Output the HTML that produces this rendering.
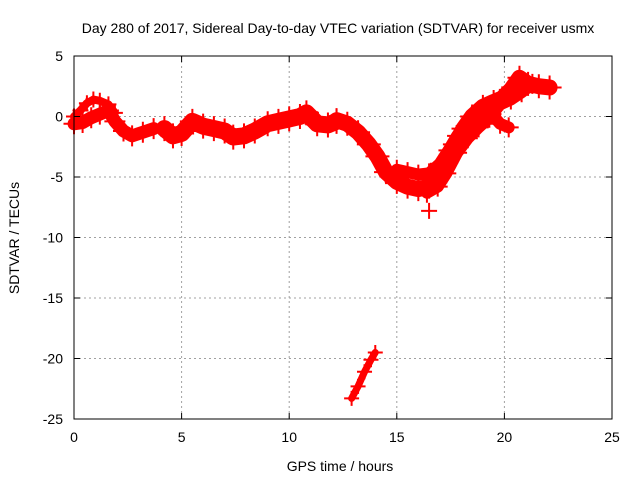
<!DOCTYPE html>
<html><head><meta charset="utf-8"><style>
body{margin:0;background:#fff}
svg{display:block;font-family:"Liberation Sans",sans-serif}
</style></head><body>
<svg id="chart" width="640" height="480">
<text x="338" y="33" font-size="14" text-anchor="middle">Day 280 of 2017, Sidereal Day-to-day VTEC variation (SDTVAR) for receiver usmx</text>
<text x="340" y="471" font-size="14" text-anchor="middle">GPS time / hours</text>
<text transform="translate(19,238) rotate(-90)" font-size="14" text-anchor="middle">SDTVAR / TECUs</text>
<g id="grid"></g><g id="marks"></g><g id="axes"></g>
</svg>
<script>
const xTicks=[0,5,10,15,20,25];
const yTicks=[5,0,-5,-10,-15,-20,-25];
const trackAx=[0,0.3,0.6,0.9,1.2,1.6,1.9];
const trackAy=[0,0.5,1.1,1.4,1.3,1.0,0.3];
const trackBx=[0,0.4,0.8,1.2,1.6,1.9,2.3,2.7,3.2,3.7];
const trackBy=[-0.6,-0.5,-0.1,0.2,0.5,-0.4,-1.2,-1.6,-1.3,-1.0];
const trackCx=[4.2,4.6,5.0,5.5,6.0,6.5,7.0,7.4,7.9,8.4,9.0,9.5,10.0,10.5,10.8,11.3,11.8,12.2];
const trackCy=[-1.0,-1.6,-1.4,-0.4,-0.8,-1.0,-1.2,-1.7,-1.6,-1.2,-0.6,-0.4,-0.2,0.0,0.3,-0.6,-0.7,-0.4];
const trackDx=[12.2,12.7,13.2,13.7,14.1,14.5,15.0,15.5,16.0,16.5,16.9,17.3,17.7,18.1,18.5,19.0,19.5,19.9,20.3,20.7,21.1,21.6,22.1];
const trackDy=[-0.3,-0.6,-1.3,-2.3,-3.3,-4.6,-5.4,-5.8,-6.0,-5.8,-5.0,-3.8,-2.3,-1.0,0.0,0.8,1.2,1.5,2.2,3.2,2.7,2.5,2.4];
const trackEx=[15.0,15.5,16.0,16.5,17.0,17.4,17.8,18.2,18.6,19.0,19.4,19.8,20.2];
const trackEy=[-4.4,-4.6,-4.8,-4.7,-3.9,-2.8,-1.6,-0.8,-0.2,0.3,0.2,-0.6,-0.9];
const trackFx=[16.4,16.9,17.3,17.8,18.3,18.8,19.3,19.8,20.3,20.8,21.3];
const trackFy=[-6.3,-5.8,-4.7,-3.0,-1.8,-0.9,-0.1,1.0,1.4,2.0,2.7];
const trackGx=[12.9,13.2,13.5,13.8,14.0];
const trackGy=[-23.3,-22.3,-21.1,-20.1,-19.5];
const outX=[16.5];
const outY=[-7.8];
const NS='http://www.w3.org/2000/svg';
const L=74,R=612,T=56,B=419;
const sx=v=>L+(v-0)/(25-0)*(R-L);
const sy=v=>T+(5-v)/(5-(-25))*(B-T);
const grid=document.getElementById('grid'),marks=document.getElementById('marks'),axes=document.getElementById('axes');
function mk(tag,attrs,parent){const e=document.createElementNS(NS,tag);for(const k in attrs)e.setAttribute(k,attrs[k]);parent.appendChild(e);return e;}
xTicks.forEach(t=>{
 if(t>0&&t<25){const g=mk('line',{x1:sx(t),x2:sx(t),y1:T,y2:B,stroke:'#a0a0a0','stroke-dasharray':'2,3'},grid);
 
 }
 const tx=mk('text',{x:sx(t),y:B+23,'font-size':14,'text-anchor':'middle'},axes);tx.textContent=t;
 
 
 mk('line',{x1:sx(t),x2:sx(t),y1:B,y2:B-6,stroke:'#000'},axes);
 mk('line',{x1:sx(t),x2:sx(t),y1:T,y2:T+6,stroke:'#000'},axes);
});
yTicks.forEach(t=>{
 if(t<5&&t>-25){const g=mk('line',{x1:L,x2:R,y1:sy(t),y2:sy(t),stroke:'#a0a0a0','stroke-dasharray':'2,3'},grid);
 
 }
 const tx=mk('text',{x:L-11,y:sy(t)+5,'font-size':14,'text-anchor':'end'},axes);tx.textContent=t;
 
 
 mk('line',{x1:L,x2:L+6,y1:sy(t),y2:sy(t),stroke:'#000'},axes);
 mk('line',{x1:R,x2:R-6,y1:sy(t),y2:sy(t),stroke:'#000'},axes);
});
const box=mk('rect',{x:L,y:T,width:R-L,height:B-T,fill:'none',stroke:'#000'},axes);


function track(xs,ys,w,name){
 const pts=xs.map((x,i)=>sx(x)+','+sy(ys[i])).join(' ');
 const p=mk('polyline',{points:pts,fill:'none',stroke:'#f00','stroke-width':w,'stroke-linejoin':'round','stroke-linecap':'round'},marks);
 
 
 const h=w/2+4;
 xs.forEach((x,i)=>{const cx=sx(x),cy=sy(ys[i]);
  const m=mk('path',{d:`M${cx-h},${cy}H${cx+h}M${cx},${cy-h}V${cy+h}`,stroke:'#f00','stroke-width':2},marks);
  
  });
}
track(trackAx,trackAy,8,'track-a');
track(trackBx,trackBy,13,'track-b');
track(trackCx,trackCy,17,'track-c');
track(trackDx,trackDy,16,'track-d');
track(trackEx,trackEy,12,'track-e');
track(trackFx,trackFy,12,'track-f');
track(trackGx,trackGy,7,'track-g');
track(outX,outY,8,'outlier');
</script>
</body></html>
